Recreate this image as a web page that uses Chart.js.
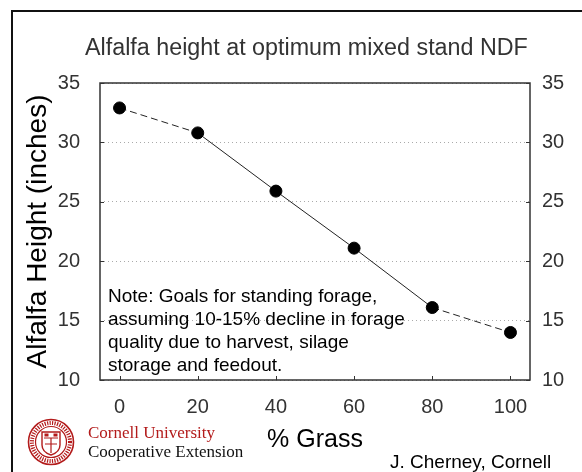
<!DOCTYPE html>
<html>
<head>
<meta charset="utf-8">
<script src="https://cdn.jsdelivr.net/npm/chart.js@4/dist/chart.umd.min.js"></script>
<style>
  html, body { margin: 0; padding: 0; background: #fff; overflow: hidden; }
  #wrap { position: relative; width: 582px; height: 472px; }
  #chart { position: absolute; left: 0; top: 0; }
  #frame { position: absolute; left: 11px; top: 10px; width: 700px; height: 600px; border: 2px solid #111; }
  .txt { position: absolute; font-family: "Liberation Sans", Arial, sans-serif; color: #000; white-space: nowrap; }
  #title { left: 85px; top: 33px; font-size: 23.3px; line-height: 28px; color: #333; }
  #note { left: 108px; top: 284px; font-size: 19px; line-height: 23px; }
  #credit { left: 390px; top: 450px; font-size: 19px; line-height: 23px; }
  .cu { position: absolute; left: 88px; font-family: "Liberation Serif", "Times New Roman", serif; font-size: 17px; line-height: 20px; white-space: nowrap; }
  #cu1 { top: 423px; color: #b31b1b; }
  #cu2 { top: 442px; color: #111; }
  #seal { position: absolute; left: 27px; top: 418px; }
</style>
</head>
<body>
<div id="wrap">
  <canvas id="chart" width="582" height="472"></canvas>
  <div id="frame"></div>
  <div id="title" class="txt">Alfalfa height at optimum mixed stand NDF</div>
  <div id="note" class="txt">Note: Goals for standing forage,<br>assuming 10-15% decline in forage<br>quality due to harvest, silage<br>storage and feedout.</div>
  <div id="credit" class="txt">J. Cherney, Cornell</div>
  <svg id="seal" width="48" height="48" viewBox="0 0 48 48">
    <circle cx="24" cy="24" r="22.5" fill="none" stroke="#b31b1b" stroke-width="1.6"/>
    <circle cx="24" cy="24" r="19" fill="none" stroke="#b31b1b" stroke-width="4" stroke-dasharray="1.2 1.3"/>
    <circle cx="24" cy="24" r="15.5" fill="none" stroke="#b31b1b" stroke-width="1.2"/>
    <path d="M15 14 L33 14 L33 27 Q33 34 24 37 Q15 34 15 27 Z" fill="none" stroke="#b31b1b" stroke-width="1.4"/>
    <path d="M17 20 L31 20 M24 20 L24 35 M18 26 L30 26" stroke="#b31b1b" stroke-width="1.2"/>
    <rect x="17.5" y="15.5" width="4" height="3" fill="#b31b1b"/>
    <rect x="26.5" y="15.5" width="4" height="3" fill="#b31b1b"/>
  </svg>
  <div id="cu1" class="cu">Cornell University</div>
  <div id="cu2" class="cu">Cooperative Extension</div>
</div>
<script>
// values
const grassPct = [0, 20, 40, 60, 80, 100];
const heightIn = [32.9, 30.8, 25.9, 21.1, 16.1, 14.0];
const xTicks = [0, 20, 40, 60, 80, 100];
const yTicks = [10, 15, 20, 25, 30, 35];

const FONT = '"Liberation Sans", Arial, sans-serif';

// plot frame + small inward tick marks
const framePlugin = {
    id: 'frame',
    beforeDatasetsDraw(chart) {
        const { ctx, chartArea: a, scales } = chart;
        ctx.save();
        ctx.strokeStyle = '#333';
        ctx.lineWidth = 1.5;
        ctx.strokeRect(a.left, a.top, a.right - a.left, a.bottom - a.top);
        ctx.lineWidth = 1;
        ctx.beginPath();
        xTicks.forEach(v => {
            const x = Math.round(scales.x.getPixelForValue(v)) + 0.5;
            ctx.moveTo(x, a.bottom);
            ctx.lineTo(x, a.bottom - 4);
        });
        yTicks.forEach(v => {
            const y = Math.round(scales.y.getPixelForValue(v)) + 0.5;
            ctx.moveTo(a.left, y);
            ctx.lineTo(a.left + 4, y);
            ctx.moveTo(a.right, y);
            ctx.lineTo(a.right - 4, y);
        });
        ctx.stroke();
        ctx.restore();
    }
};

const yTickOpts = (pad) => ({
    min: 10,
    max: 35,
    afterBuildTicks: (s) => { s.ticks = yTicks.map(v => ({ value: v })); },
    ticks: { padding: pad, color: '#333', font: { family: FONT, size: 20 } },
    border: { display: false }
});

const ctx = document.getElementById('chart');
const chart = new Chart(ctx, {
    type: 'line',
    data: {
        datasets: [
            {
                label: 'Alfalfa height',
                data: grassPct.map((g, i) => ({ x: g, y: heightIn[i] })),
                borderColor: '#222',
                borderWidth: 1,
                pointRadius: 6,
                pointBackgroundColor: '#000',
                pointBorderColor: '#000',
                tension: 0,
                segment: {
                    borderDash: (c) => (c.p0DataIndex === 0 || c.p0DataIndex === 4) ? [7, 4] : undefined
                }
            }
        ]
    },
    options: {
        responsive: false,
        animation: false,
        devicePixelRatio: 1,
        layout: { padding: { top: 83, left: 0, right: 0, bottom: 0 } },
        plugins: {
            legend: { display: false },
            tooltip: { enabled: false },
            title: { display: false }
        },
        scales: {
            x: {
                type: 'linear',
                min: -5,
                max: 105,
                afterBuildTicks: (s) => { s.ticks = xTicks.map(v => ({ value: v })); },
                afterFit: (s) => { s.height = 92; },
                grid: { display: false },
                border: { display: false },
                ticks: { padding: 7, color: '#333', font: { family: FONT, size: 20 } },
                title: {
                    display: true,
                    text: '% Grass',
                    color: '#000',
                    font: { family: FONT, size: 25 },
                    padding: { top: 0, bottom: 17 }
                }
            },
            y: Object.assign(yTickOpts(20), {
                position: 'left',
                afterFit: (s) => { s.width = 100; },
                grid: { drawTicks: false, color: '#aaa', lineWidth: 1 },
                border: { display: false, dash: [1, 3] },
                title: {
                    display: true,
                    text: 'Alfalfa Height (inches)',
                    color: '#000',
                    font: { family: FONT, size: 28 },
                    padding: { top: 21, bottom: 0 }
                }
            }),
            y2: Object.assign(yTickOpts(12), {
                position: 'right',
                afterFit: (s) => { s.width = 52; },
                grid: { display: false, drawTicks: false }
            })
        }
    },
    plugins: [framePlugin]
});
</script>
</body>
</html>
